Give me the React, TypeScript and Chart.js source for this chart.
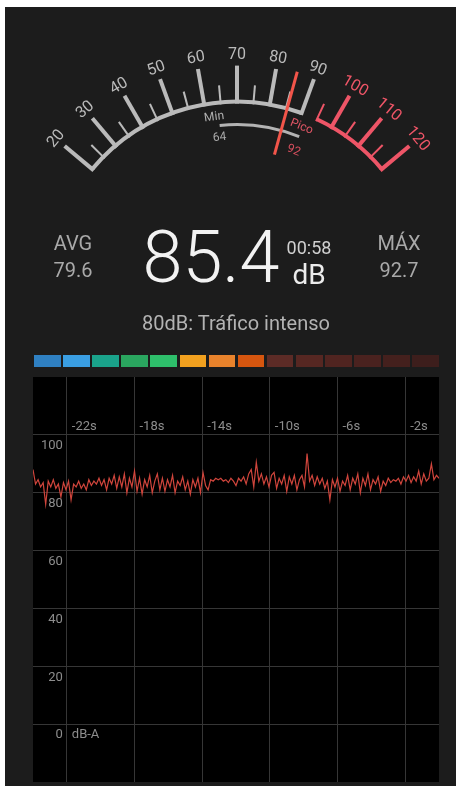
import React, { useEffect, useRef } from "react";
import { Chart, registerables } from "chart.js";

Chart.register(...registerables);

// ---------- data ----------
const START_TIME = -24;
const SAMPLE_STEP = 0.15;
const levels: number[] = [
  88, 83, 84.5, 82, 83.5, 76, 84, 82, 84.5, 81.5,
  83, 78.5, 83.5, 81, 84, 77.5, 83, 82, 84, 81.5,
  83, 81, 84.5, 82.5, 84, 83, 85, 82.5, 84.5, 81,
  85, 83, 86, 81.5, 85.5, 82, 86.5, 80, 85, 82,
  87.5, 80.5, 85, 79.5, 84.5, 82, 86, 80, 84, 86.5,
  81, 85, 80.5, 84.5, 82, 86, 80, 84, 82.5, 85.5,
  81, 84, 79.5, 84.5, 82, 85, 80, 87, 82.5, 81,
  84.5, 84, 85, 84.5, 85, 84, 84.5, 83.5, 85, 84,
  82.5, 85, 84, 85.5, 83, 86.5, 88, 82, 90.5, 84,
  86.5, 83, 85.5, 82, 86, 87, 81.5, 85, 83, 86,
  80.5, 85.5, 83, 86, 81, 84.5, 86, 82, 93.5, 84,
  86, 82.5, 85.5, 83, 85, 81.5, 84, 77.5, 84.5, 82,
  85, 80.5, 84, 82.5, 86, 81, 85, 83, 86.5, 80,
  85, 82.5, 86.5, 81, 84.5, 83, 85.5, 80.5, 84, 82.5,
  85, 83.5, 84.5, 84, 85, 83, 85.5, 84, 86, 83.5,
  85.5, 84, 87.5, 83, 86.5, 84, 85, 90, 84.5, 86,
  85,
];

const xTickValues = [-22, -18, -14, -10, -6, -2];
const xTickLabels = ["-22s", "-18s", "-14s", "-10s", "-6s", "-2s"];
const yTickValues = [0, 20, 40, 60, 80, 100];
const yTickLabels = ["0", "20", "40", "60", "80", "100"];
const unitLabel = "dB-A";

const gaugeLabels = [20, 30, 40, 50, 60, 70, 80, 90, 100, 110, 120];
const gaugeMinorTicks = [25, 35, 45, 55, 65, 75, 85, 95, 105, 115];
const gaugeGrayRange = [20, 90];
const gaugeRedRange = [95, 120];
const currentLevel = 85.4;
const minLevel = 64;
const peakLevel = 92;

const avgText = "79.6";
const maxText = "92.7";
const currentText = "85.4";
const elapsedText = "00:58";
const levelDescription = "80dB: Tráfico intenso";

const levelBarColors = [
  "#2f80c2", "#3a9ee2", "#1aa38b", "#2aa65f", "#2ebf6b",
  "#f2a11f", "#e9832c", "#d6560f", "#5c2b26", "#562722",
  "#502420", "#4a221f", "#44201d", "#3d1e1c",
];

// ---------- layout ----------
const PANEL_X = 5;
const PANEL_Y = 7;
const PANEL_W = 451;
const PANEL_H = 779;
const GAUGE = { cx: 237 - PANEL_X, cy: 290.6 - PANEL_Y, r: 189 };
const GRAY = "#bababa";
const RED = "#ee5567";
const NEEDLE = "#f2554a";
const FONT = "Roboto, 'Noto Sans', sans-serif";

function gAngle(v: number) {
  return ((v - 70) * Math.PI) / 180;
}
function gPoint(v: number, r: number): [number, number] {
  const a = gAngle(v);
  return [GAUGE.cx + r * Math.sin(a), GAUGE.cy - r * Math.cos(a)];
}

const backgroundPlugin = {
  id: "plotBackground",
  beforeDraw(chart: any) {
    const { ctx, chartArea } = chart;
    ctx.save();
    ctx.fillStyle = "#000000";
    ctx.fillRect(chartArea.left, chartArea.top, chartArea.right - chartArea.left, chartArea.bottom - chartArea.top);
    ctx.restore();
  },
};

const tickLabelPlugin = {
  id: "insideTicks",
  afterDraw(chart: any) {
    const { ctx } = chart;
    const xs = chart.scales.x;
    const ys = chart.scales.y;
    ctx.save();
    ctx.font = `13px ${FONT}`;
    ctx.fillStyle = "#8d8d8d";
    ctx.textBaseline = "middle";
    const firstX = xs.getPixelForValue(xTickValues[0]);
    ctx.textAlign = "right";
    yTickValues.forEach((v, i) => {
      ctx.fillText(yTickLabels[i], firstX - 4, ys.getPixelForValue(v) + 11);
    });
    ctx.textAlign = "left";
    ctx.fillText(unitLabel, firstX + 5, ys.getPixelForValue(0) + 11);
    const yTop = ys.getPixelForValue(100) - 8;
    xTickValues.forEach((v, i) => {
      ctx.fillText(xTickLabels[i], xs.getPixelForValue(v) + 5, yTop);
    });
    ctx.restore();
  },
};

const gaugePlugin = {
  id: "gauge",
  afterDraw(chart: any) {
    const ctx: CanvasRenderingContext2D = chart.ctx;
    const { cx, cy, r } = GAUGE;
    ctx.save();
    ctx.lineCap = "butt";
    // arcs
    ctx.lineWidth = 4;
    ctx.strokeStyle = GRAY;
    ctx.beginPath();
    ctx.arc(cx, cy, r, gAngle(gaugeGrayRange[0]) - Math.PI / 2, gAngle(gaugeGrayRange[1]) - Math.PI / 2);
    ctx.stroke();
    ctx.strokeStyle = RED;
    ctx.beginPath();
    ctx.arc(cx, cy, r, gAngle(gaugeRedRange[0]) - Math.PI / 2, gAngle(gaugeRedRange[1]) - Math.PI / 2);
    ctx.stroke();
    // ticks
    const drawTick = (v: number, major: boolean) => {
      const len = major ? 36 : 17;
      ctx.lineWidth = major ? 4 : 2;
      ctx.strokeStyle = v >= gaugeRedRange[0] ? RED : GRAY;
      const [x1, y1] = gPoint(v, r - 2);
      const [x2, y2] = gPoint(v, r + len);
      ctx.beginPath();
      ctx.moveTo(x1, y1);
      ctx.lineTo(x2, y2);
      ctx.stroke();
    };
    gaugeMinorTicks.forEach((v) => drawTick(v, false));
    gaugeLabels.forEach((v) => drawTick(v, true));
    // labels
    const rotText = (text: string, v: number, rad: number, color: string, font: string) => {
      const [x, y] = gPoint(v, rad);
      ctx.save();
      ctx.translate(x, y);
      ctx.rotate(gAngle(v));
      ctx.font = font;
      ctx.fillStyle = color;
      ctx.textAlign = "center";
      ctx.textBaseline = "middle";
      ctx.fillText(text, 0, 0);
      ctx.restore();
    };
    gaugeLabels.forEach((v) => {
      rotText(String(v), v, 236, v >= gaugeRedRange[0] ? RED : GRAY, `16px ${FONT}`);
    });
    // min / peak arc
    ctx.lineWidth = 3;
    ctx.strokeStyle = "#b3b3b3";
    ctx.beginPath();
    ctx.arc(cx, cy, 166, gAngle(minLevel) - Math.PI / 2, gAngle(peakLevel) - Math.PI / 2);
    ctx.stroke();
    rotText("Min", minLevel - 1.5, 175, "#b0b0b0", `12px ${FONT}`);
    rotText(String(minLevel), minLevel - 0.5, 154, "#a8a8a8", `12px ${FONT}`);
    rotText("Pico", peakLevel - 0.5, 176, "#e05565", `12px ${FONT}`);
    rotText(String(peakLevel), peakLevel, 151, "#d64f5e", `12px ${FONT}`);
    // needle
    ctx.lineWidth = 3;
    ctx.strokeStyle = NEEDLE;
    const [n1x, n1y] = gPoint(currentLevel, 141);
    const [n2x, n2y] = gPoint(currentLevel, 227);
    ctx.beginPath();
    ctx.moveTo(n1x, n1y);
    ctx.lineTo(n2x, n2y);
    ctx.stroke();
    ctx.restore();
  },
};

function abs(left: number, top: number, extra: React.CSSProperties): React.CSSProperties {
  return {
    position: "absolute",
    left: left - PANEL_X,
    top: top - PANEL_Y,
    transform: "translate(-50%, -50%)",
    whiteSpace: "nowrap",
    lineHeight: 1,
    fontFamily: FONT,
    ...extra,
  };
}

export default function App() {
  const canvasRef = useRef<HTMLCanvasElement | null>(null);

  useEffect(() => {
    document.body.style.margin = "0";
    document.body.style.background = "#ffffff";
    const canvas = canvasRef.current;
    if (!canvas) return;
    const points = levels.map((v, i) => ({ x: START_TIME + i * SAMPLE_STEP, y: v }));
    const chart = new Chart(canvas, {
      type: "line",
      data: {
        datasets: [
          {
            data: points,
            borderColor: "#d0453c",
            borderWidth: 1.2,
            pointRadius: 0,
            tension: 0,
            fill: false,
          },
        ],
      },
      options: {
        responsive: false,
        animation: false,
        devicePixelRatio: 1,
        layout: { padding: { left: 28, top: 370, right: 17, bottom: 4 } },
        plugins: { legend: { display: false }, tooltip: { enabled: false } },
        scales: {
          x: {
            type: "linear",
            min: -24,
            max: 0,
            afterBuildTicks: (s: any) => {
              s.ticks = xTickValues.map((v) => ({ value: v }));
            },
            ticks: { display: false },
            grid: { color: "#363636", lineWidth: 1, drawTicks: false },
            border: { display: false },
          },
          y: {
            type: "linear",
            min: -20,
            max: 120,
            afterBuildTicks: (s: any) => {
              s.ticks = yTickValues.map((v) => ({ value: v }));
            },
            ticks: { display: false },
            grid: { color: "#363636", lineWidth: 1, drawTicks: false },
            border: { display: false },
          },
        },
      } as any,
      plugins: [backgroundPlugin, tickLabelPlugin, gaugePlugin],
    });
    return () => chart.destroy();
  }, []);

  const barStep = 29.1;
  return (
    <div style={{ position: "fixed", left: 0, top: 0, width: 460, height: 786, background: "#ffffff" }}>
      <div
        style={{
          position: "absolute",
          left: PANEL_X,
          top: PANEL_Y,
          width: PANEL_W,
          height: PANEL_H,
          background: "#1c1c1c",
          overflow: "hidden",
        }}
      >
        <canvas ref={canvasRef} width={PANEL_W} height={PANEL_H} style={{ position: "absolute", left: 0, top: 0 }} />
        <div style={abs(73, 243, { fontSize: 20, color: "#a9a9a9" })}>AVG</div>
        <div style={abs(73, 270, { fontSize: 20, color: "#a9a9a9" })}>{avgText}</div>
        <div style={abs(211, 258, { fontSize: 72, color: "#f2f2f2", fontWeight: 300 })}>{currentText}</div>
        <div style={abs(309, 248, { fontSize: 18, color: "#d0d0d0" })}>{elapsedText}</div>
        <div style={abs(309, 275, { fontSize: 28, color: "#ececec" })}>dB</div>
        <div style={abs(399, 243, { fontSize: 20, color: "#a9a9a9" })}>MÁX</div>
        <div style={abs(399, 270, { fontSize: 20, color: "#a9a9a9" })}>{maxText}</div>
        <div style={abs(236, 323, { fontSize: 20, color: "#b3b3b3" })}>{levelDescription}</div>
        {levelBarColors.map((c, i) => (
          <div
            key={i}
            style={{
              position: "absolute",
              left: 34 - PANEL_X + i * barStep,
              top: 355 - PANEL_Y,
              width: 26.7,
              height: 12,
              background: c,
            }}
          />
        ))}
      </div>
    </div>
  );
}
